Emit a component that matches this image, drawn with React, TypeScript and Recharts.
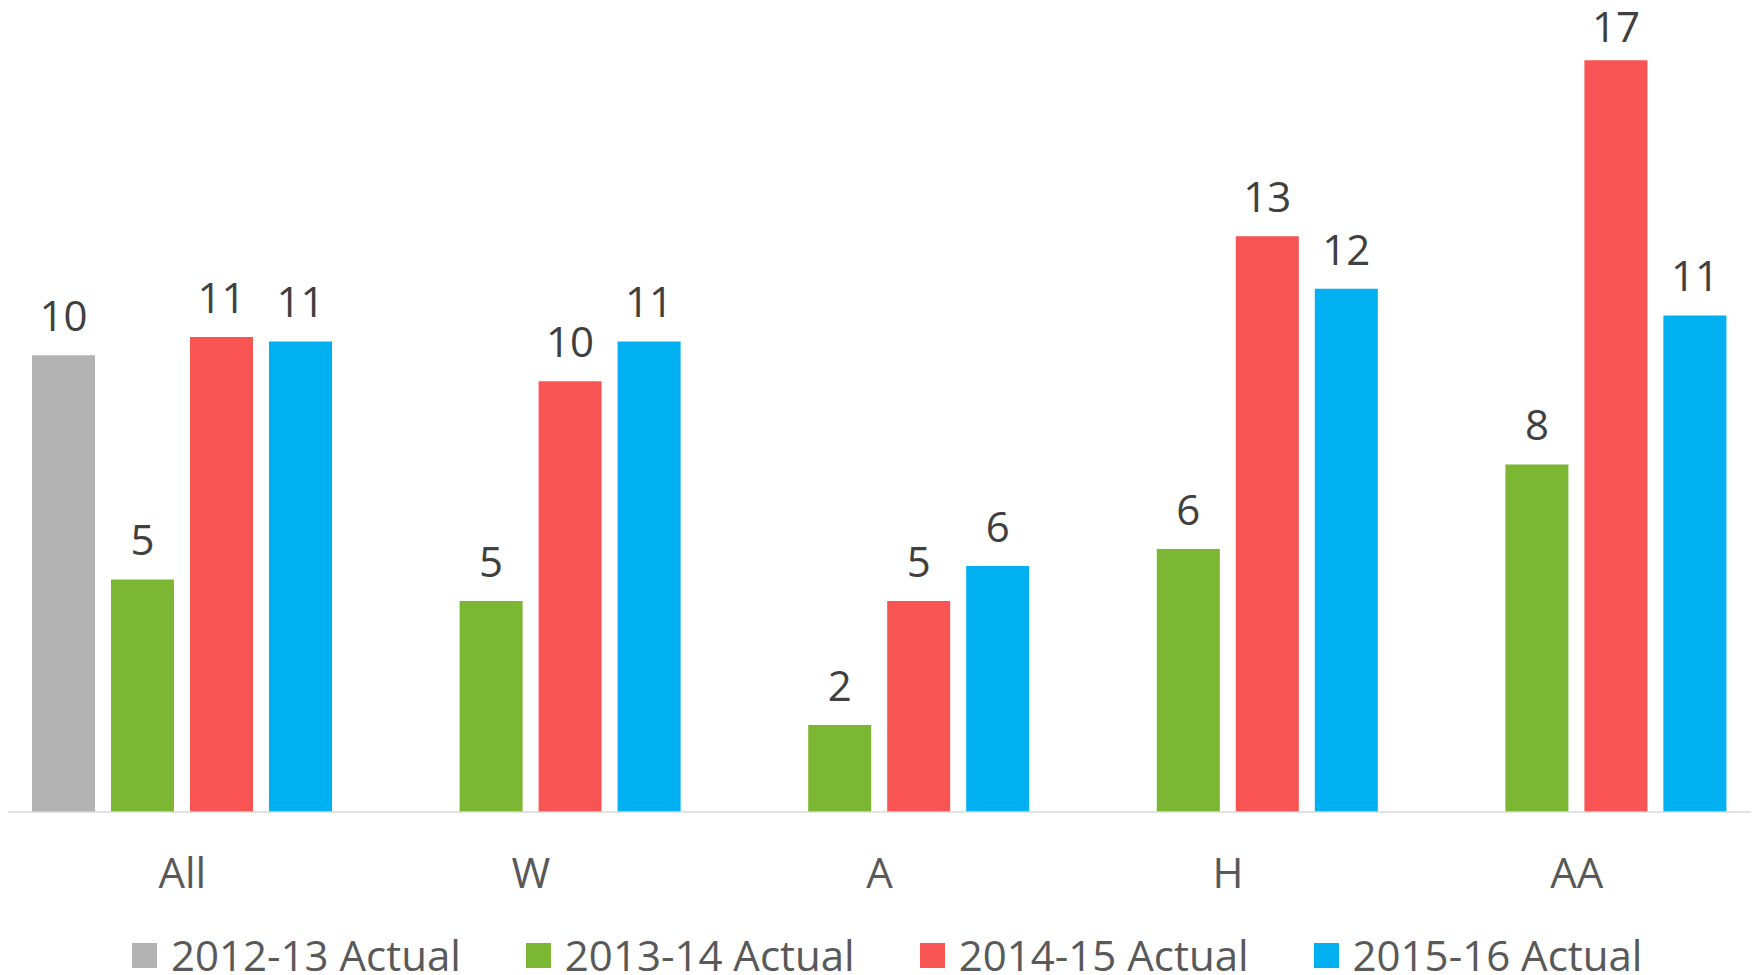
import { BarChart, Bar, XAxis, YAxis, LabelList } from 'recharts'

const categories = ['All', 'W', 'A', 'H', 'AA']
const actual2012 = [10.33, null, null, null, null]
const actual2013 = [5.26, 4.77, 1.97, 5.95, 7.86]
const actual2014 = [10.74, 9.74, 4.77, 13.02, 17.0]
const actual2015 = [10.64, 10.64, 5.56, 11.83, 11.23]

const series = [
  { key: 'a2012', name: '2012-13 Actual', color: '#b3b3b3', values: actual2012 },
  { key: 'a2013', name: '2013-14 Actual', color: '#7cb733', values: actual2013 },
  { key: 'a2014', name: '2014-15 Actual', color: '#f85454', values: actual2014 },
  { key: 'a2015', name: '2015-16 Actual', color: '#00b0f0', values: actual2015 },
]

const chartData = categories.map((name, i) => {
  const row: any = { name }
  series.forEach(s => { row[s.key] = s.values[i] })
  return row
})

const FONT = '"Open Sans", "Noto Sans", sans-serif'

// value label above each bar, rounded like the source; kept inside the chart top like Excel does
const renderValue = (props: any) => {
  const { x, y, width, value } = props
  if (value === null || value === undefined) return null
  return (
    <text
      x={x + width / 2}
      y={Math.max(y - 24, 42)}
      textAnchor="middle"
      fill="#404040"
      fontSize={42}
      fontFamily={FONT}
    >
      {Math.round(value)}
    </text>
  )
}

export default function App() {
  return (
    <div style={{ position: 'absolute', left: 0, top: 0, width: 1757, height: 975, background: '#fff', fontFamily: FONT }}>
      <BarChart
        width={1757}
        height={900}
        data={chartData}
        margin={{ top: 16, right: 6, left: 8, bottom: 0 }}
        barGap={16}
        barSize={63}
      >
        <XAxis
          dataKey="name"
          height={88}
          interval={0}
          tickLine={false}
          tickMargin={40}
          axisLine={{ stroke: '#d9d9d9', strokeWidth: 1.5 }}
          tick={{ fill: '#595959', fontSize: 42, fontFamily: FONT }}
        />
        <YAxis hide domain={[0, 18]} />
        {series.map(s => (
          <Bar key={s.key} dataKey={s.key} name={s.name} fill={s.color} isAnimationActive={false}>
            <LabelList dataKey={s.key} content={renderValue} />
          </Bar>
        ))}
      </BarChart>
      <div style={{ position: 'absolute', left: 132, top: 935, display: 'flex', alignItems: 'center', gap: 65 }}>
        {series.map(s => (
          <div key={s.key} style={{ display: 'flex', alignItems: 'center' }}>
            <div style={{ width: 25, height: 25, background: s.color, marginRight: 14 }} />
            <span style={{ fontSize: 42, color: '#595959', lineHeight: '40px' }}>{s.name}</span>
          </div>
        ))}
      </div>
    </div>
  )
}
